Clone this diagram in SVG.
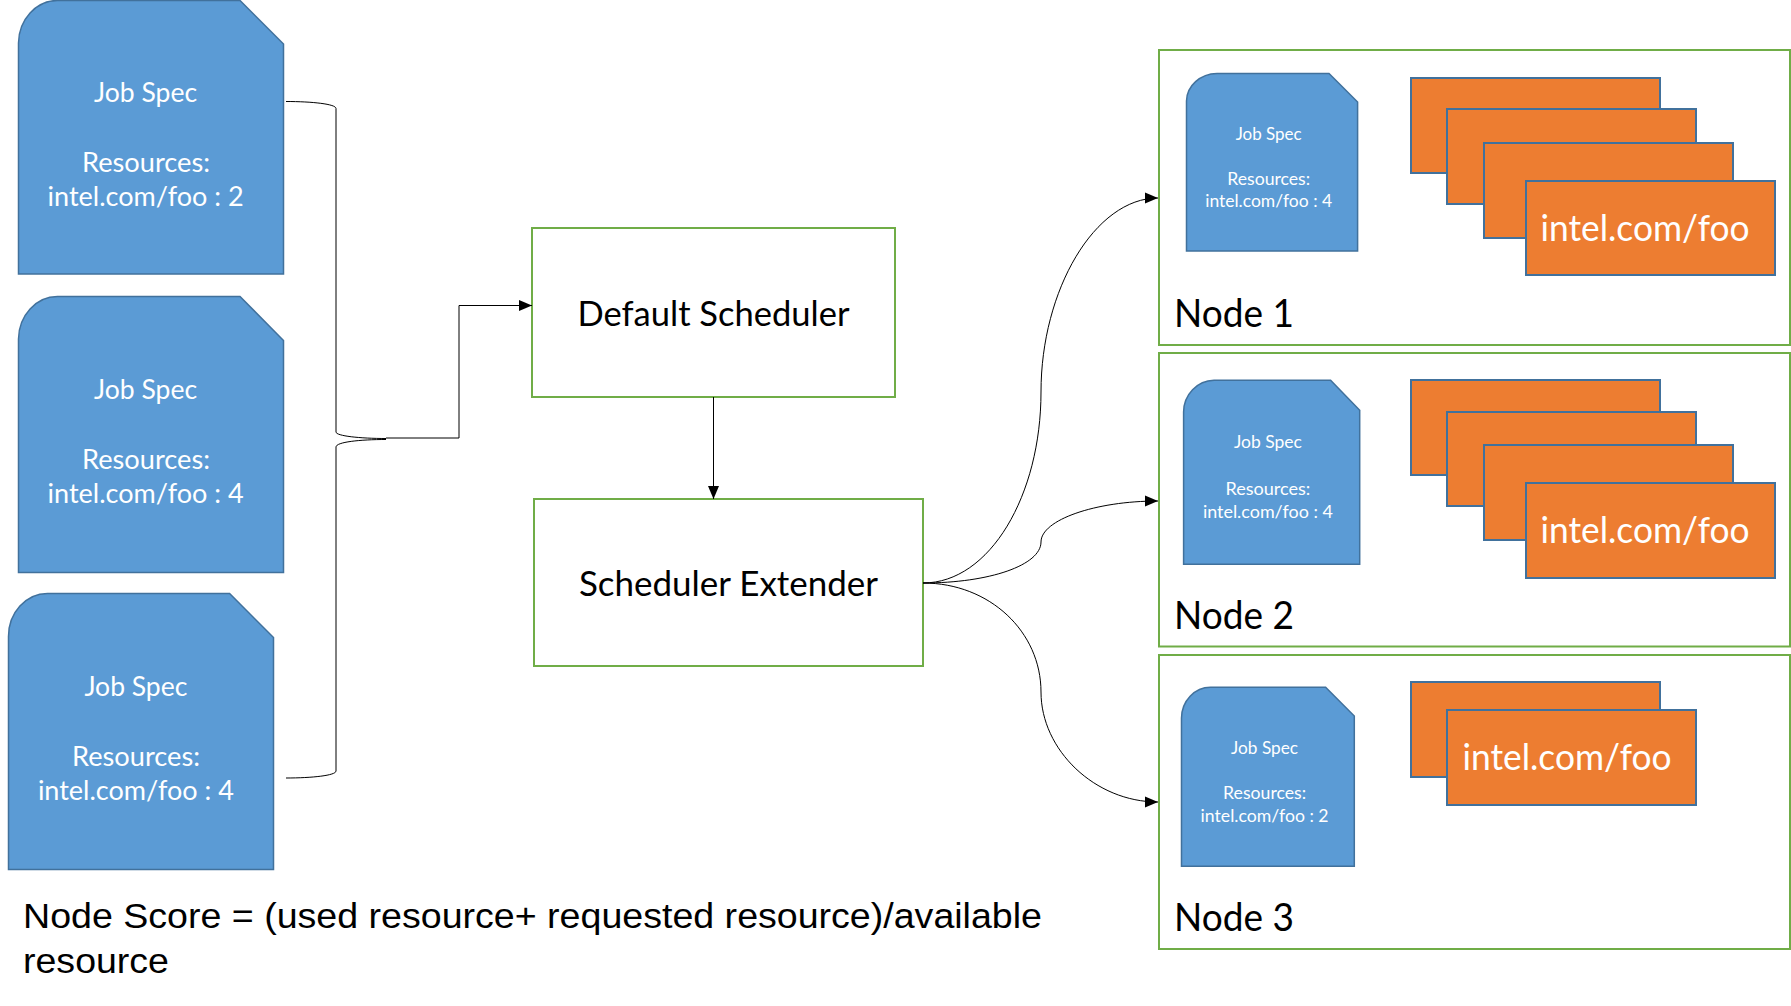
<svg xmlns="http://www.w3.org/2000/svg" width="1791" height="1006" viewBox="0 0 1791 1006">
<style>
text{font-family:"Lato","Carlito","Liberation Sans",sans-serif}
.g{fill:#fff;stroke:#70AD47;stroke-width:2}
.j{fill:#5B9BD5;stroke:#41719C;stroke-width:1.5}
.o{fill:#ED7D31;stroke:#41719C;stroke-width:2}
.c{fill:none;stroke:#000;stroke-width:1}
.a{marker-end:url(#arr)}
.tl{font-size:26px;fill:#fff;text-anchor:middle}
.ts{font-size:17px;fill:#fff;text-anchor:middle}
.ti{font-size:36px;fill:#fff}
.tb{font-size:34px;fill:#000}
.tn{font-size:38px;fill:#000}
.tf{font-family:"Liberation Sans",Arial,sans-serif;font-size:35.5px;fill:#000}
</style>
<defs>
<marker id="arr" markerUnits="userSpaceOnUse" markerWidth="13" markerHeight="12" refX="13" refY="6" orient="auto"><path d="M0 0.5L13 6L0 11.5Z" fill="#000"/></marker>
</defs>
<g id="job1">
<path class="j" d="M18.5 274V43A39 43 0 0 1 57.5 0.5H240L283.5 44V274Z"/>
<text class="tl" x="145.600" y="102" textLength="103" lengthAdjust="spacingAndGlyphs">Job Spec</text>
<text class="tl" x="146" y="172" textLength="128" lengthAdjust="spacingAndGlyphs">Resources:</text>
<text class="tl" x="145.600" y="206" textLength="196" lengthAdjust="spacingAndGlyphs">intel.com/foo : 2</text>
</g>
<g id="job2">
<path class="j" d="M18.5 572.500V339A39 43 0 0 1 57.5 296.500H240L283.5 340.500V572.500Z"/>
<text class="tl" x="145.600" y="399" textLength="103" lengthAdjust="spacingAndGlyphs">Job Spec</text>
<text class="tl" x="146" y="469" textLength="128" lengthAdjust="spacingAndGlyphs">Resources:</text>
<text class="tl" x="145.600" y="503" textLength="196" lengthAdjust="spacingAndGlyphs">intel.com/foo : 4</text>
</g>
<g id="job3">
<path class="j" d="M8.5 869.500V636.500A39 43 0 0 1 47.500 593.500H229.600L273.500 637.500V869.500Z"/>
<text class="tl" x="135.900" y="696.300" textLength="103" lengthAdjust="spacingAndGlyphs">Job Spec</text>
<text class="tl" x="136" y="766" textLength="128" lengthAdjust="spacingAndGlyphs">Resources:</text>
<text class="tl" x="135.900" y="800.300" textLength="196" lengthAdjust="spacingAndGlyphs">intel.com/foo : 4</text>
</g>
<g id="default-scheduler">
<rect class="g" x="532" y="228" width="363" height="169"/>
<text class="tb" x="577.500" y="326" textLength="272" lengthAdjust="spacingAndGlyphs">Default Scheduler</text>
</g>
<g id="scheduler-extender">
<rect class="g" x="534" y="499" width="389" height="167"/>
<text class="tb" x="579" y="596" textLength="299" lengthAdjust="spacingAndGlyphs">Scheduler Extender</text>
</g>
<g id="node1">
<rect class="g" x="1159" y="50" width="631" height="295"/>
<path class="j" d="M1186.500 251V101A31 28 0 0 1 1217 73.500H1329L1357.600 102V251Z"/>
<text class="ts" x="1268.700" y="140" textLength="66" lengthAdjust="spacingAndGlyphs">Job Spec</text>
<text class="ts" x="1268.700" y="184.700" textLength="83" lengthAdjust="spacingAndGlyphs">Resources:</text>
<text class="ts" x="1268.700" y="206.700" textLength="127" lengthAdjust="spacingAndGlyphs">intel.com/foo : 4</text>
<rect class="o" x="1411" y="78" width="249" height="95"/>
<rect class="o" x="1447" y="109" width="249" height="95"/>
<rect class="o" x="1484" y="143" width="249" height="95"/>
<rect class="o" x="1526" y="181" width="249" height="94"/>
<text class="ti" x="1540.500" y="241" textLength="209" lengthAdjust="spacingAndGlyphs">intel.com/foo</text>
<text class="tn" x="1174" y="327" textLength="120" lengthAdjust="spacingAndGlyphs">Node 1</text>
</g>
<g id="node2">
<rect class="g" x="1159" y="353" width="631" height="293.500"/>
<path class="j" d="M1183.600 564.300V412A31 32 0 0 1 1214 380.300H1330.600L1359.700 410.300V564.300Z"/>
<text class="ts" x="1267.900" y="448.300" textLength="68" lengthAdjust="spacingAndGlyphs">Job Spec</text>
<text class="ts" x="1267.900" y="494.700" textLength="85" lengthAdjust="spacingAndGlyphs">Resources:</text>
<text class="ts" x="1267.900" y="517.700" textLength="130" lengthAdjust="spacingAndGlyphs">intel.com/foo : 4</text>
<rect class="o" x="1411" y="380" width="249" height="95"/>
<rect class="o" x="1447" y="412" width="249" height="94"/>
<rect class="o" x="1484" y="445" width="249" height="95"/>
<rect class="o" x="1526" y="483" width="249" height="95"/>
<text class="ti" x="1540.500" y="542.700" textLength="209" lengthAdjust="spacingAndGlyphs">intel.com/foo</text>
<text class="tn" x="1174" y="629" textLength="120" lengthAdjust="spacingAndGlyphs">Node 2</text>
</g>
<g id="node3">
<rect class="g" x="1159" y="655" width="631" height="294"/>
<path class="j" d="M1181.500 866.300V718A29 31 0 0 1 1210.600 687.300H1325.600L1354.300 716V866.300Z"/>
<text class="ts" x="1264.600" y="754" textLength="67" lengthAdjust="spacingAndGlyphs">Job Spec</text>
<text class="ts" x="1264.600" y="799" textLength="83" lengthAdjust="spacingAndGlyphs">Resources:</text>
<text class="ts" x="1264.600" y="821.700" textLength="128" lengthAdjust="spacingAndGlyphs">intel.com/foo : 2</text>
<rect class="o" x="1411" y="682" width="249" height="95"/>
<rect class="o" x="1447" y="710" width="249" height="95"/>
<text class="ti" x="1462.500" y="770.300" textLength="209" lengthAdjust="spacingAndGlyphs">intel.com/foo</text>
<text class="tn" x="1174" y="931" textLength="120" lengthAdjust="spacingAndGlyphs">Node 3</text>
</g>
<g id="connectors">
<path class="c" d="M286 101.500C312 101.500 336 104 336 108.500V432C336 436 360 438.500 386 438.500"/>
<path class="c" d="M386 439.500C360 439.500 336 442 336 447V771C336 775.500 312 778 286 778"/>
<path class="c a" d="M386 438H459V305.500H532"/>
<path class="c a" d="M713.500 397V499"/>
<path class="c a" d="M923 583C990 583 1041 495 1041 392C1041 290 1095 198 1158 198"/>
<path class="c a" d="M923 583C990 583 1041 565 1041 542C1041 520 1095 501 1158 501"/>
<path class="c a" d="M923 583C990 583 1041 632 1041 692C1041 750 1095 802 1158 802"/>
</g>
<g id="caption">
<text class="tf" x="23" y="928.300" textLength="1019" lengthAdjust="spacingAndGlyphs">Node Score = (used resource+ requested resource)/available</text>
<text class="tf" x="23" y="973.300" textLength="146" lengthAdjust="spacingAndGlyphs">resource</text>
</g>
</svg>
